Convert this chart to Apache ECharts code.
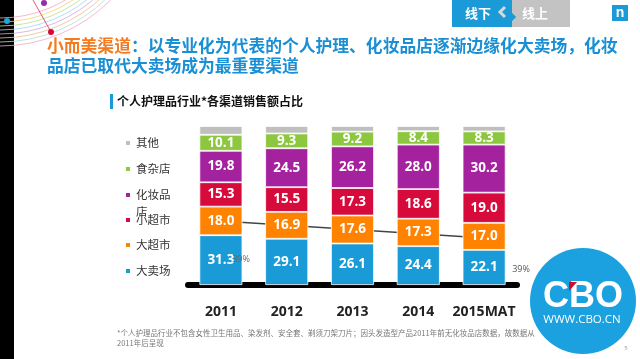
<!DOCTYPE html>
<html>
<head>
<meta charset="utf-8">
<script src="https://cdn.jsdelivr.net/npm/echarts@6/dist/echarts.min.js"></script>
<style>
html,body{margin:0;padding:0;background:#fff;}
#chart{width:640px;height:359px;}
</style>
</head>
<body>
<div id="chart"></div>
<script>
// ---- data ----
const categories = ['2011', '2012', '2013', '2014', '2015MAT'];
const seriesNames = ['大卖场', '大超市', '小超市', '化妆品店', '食杂店', '其他'];
const hypermarket = [31.3, 29.1, 26.1, 24.4, 22.1];   // 大卖场
const supermarket = [18.0, 16.9, 17.6, 17.3, 17.0];   // 大超市
const minimarket = [15.3, 15.5, 17.3, 18.6, 19.0];    // 小超市
const cosmeticStore = [19.8, 24.5, 26.2, 28.0, 30.2]; // 化妆品店
const grocery = [10.1, 9.3, 9.2, 8.4, 8.3];           // 食杂店
const others = [5.5, 4.7, 3.6, 3.3, 3.4];             // 其他
const trendLine = [40.3, null, null, null, 29.6];
const trendLabel = '39%';

const colors = ['#1a9ad6', '#ff8200', '#d70a3c', '#a5229f', '#8dc63f', '#bfbfbf'];
const seriesData = [hypermarket, supermarket, minimarket, cosmeticStore, grocery, others];

const cjk = "'Noto Sans CJK SC', 'Noto Sans', sans-serif";

const chart = echarts.init(document.getElementById('chart'), null, {renderer: 'canvas'});

const series = seriesNames.map((name, i) => ({
  name: name,
  type: 'bar',
  stack: 'total',
  barWidth: 43,
  data: seriesData[i],
  itemStyle: {color: colors[i], borderColor: '#ffffff', borderWidth: 0.8},
  label: {
    show: i < 5,
    position: 'inside',
    color: '#ffffff',
    fontFamily: "'Open Sans', sans-serif",
    fontWeight: 'bold',
    fontSize: 13.5,
    formatter: p => p.value.toFixed(1)
  },
  z: 3
}));

series.push({
  name: 'trend',
  type: 'line',
  data: trendLine,
  connectNulls: true,
  symbol: 'none',
  lineStyle: {color: '#444', width: 1.5},
  z: 1,
  silent: true
});

// legend (one component per item, positioned individually)
const legendPos = [
  {name: '其他', cy: 143},
  {name: '食杂店', cy: 169},
  {name: '化妆品店', cy: 195, wrap: true},
  {name: '小超市', cy: 220},
  {name: '大超市', cy: 245},
  {name: '大卖场', cy: 271}
];
const legends = legendPos.map(l => {
  const base = {
    data: [l.name],
    left: 124,
    orient: 'vertical',
    icon: 'rect',
    itemWidth: 6,
    itemHeight: 6,
    padding: 0,
    selectedMode: false,
    textStyle: {fontSize: 11.5, color: '#333', fontFamily: cjk, lineHeight: 14}
  };
  if (l.wrap) {
    base.formatter = ' \n化妆品\n店';
    base.textStyle = {fontSize: 11.5, color: '#333', fontFamily: cjk, lineHeight: 17};
    base.top = l.cy - 25.5;
  } else {
    base.top = l.cy - 7;
  }
  return base;
});

// decorative arcs
const arcColors = ['#f4a6c6', '#f6d26d', '#b6df8c', '#9fd4f0', '#cfa6df', '#f8b98a', '#a9e0d9', '#f4a6c6'];
const arcs = arcColors.map((c, i) => ({
  type: 'arc',
  shape: {cx: 0, cy: -110, r: 128 + i * 4, startAngle: 0, endAngle: Math.PI / 2},
  style: {stroke: c, lineWidth: 0.8, fill: null},
  silent: true
}));

const option = {
  backgroundColor: '#ffffff',
  animation: false,
  title: [
    {
      left: 47, top: 36,
      text: '{o|小而美渠道}{b|：以专业化为代表的个人护理、化妆品店逐渐边缘化大卖场，化妆}\n{b|品店已取代大卖场成为最重要渠道}',
      textStyle: {
        rich: {
          o: {color: '#f47b20', fontSize: 16.8, fontWeight: 'bold', fontFamily: cjk, lineHeight: 20},
          b: {color: '#1a8fd3', fontSize: 16.8, fontWeight: 'bold', fontFamily: cjk, lineHeight: 20}
        }
      },
      padding: 0
    },
    {
      left: 117, top: 94,
      text: '个人护理品行业*各渠道销售额占比',
      padding: 0,
      textStyle: {fontSize: 12, fontWeight: 'bold', color: '#111', fontFamily: cjk, lineHeight: 15}
    }
  ],
  legend: legends,
  grid: {left: 188, right: 123, top: 126, bottom: 74},
  xAxis: {
    type: 'category',
    data: categories,
    offset: 3,
    axisLine: {lineStyle: {color: '#000', width: 6}},
    axisTick: {show: false},
    axisLabel: {
      interval: 0,
      margin: 17,
      fontSize: 14,
      fontWeight: 'bold',
      color: '#222',
      fontFamily: "'Open Sans', sans-serif",
      verticalAlign: 'top'
    }
  },
  yAxis: {
    type: 'value', min: 0, max: 100, show: false,
    splitLine: {show: false}
  },
  series: series,
  graphic: [
    {type: 'rect', shape: {x: 0, y: 0, width: 14, height: 359}, style: {fill: '#000'}, silent: true},
    ...arcs,
    {type: 'line', shape: {x1: 33, y1: 0, x2: 51, y2: 32}, style: {stroke: '#d9304f', lineWidth: 0.8}, silent: true},
    {type: 'circle', shape: {cx: 44, cy: 3, r: 3}, style: {fill: '#9b2aa8'}, silent: true},
    {type: 'circle', shape: {cx: 51, cy: 32, r: 3}, style: {fill: '#d6093a'}, silent: true},
    {type: 'circle', shape: {cx: 7, cy: 21, r: 3}, style: {fill: '#19a8df'}, silent: true},
    // top right switch
    {type: 'rect', shape: {x: 452, y: 0, width: 60, height: 27}, style: {fill: '#1a9ad6'}, silent: true},
    {type: 'rect', shape: {x: 512, y: 0, width: 58, height: 27}, style: {fill: '#c3c3c3'}, silent: true},
    {type: 'polyline', shape: {points: [[505, 7], [500, 12], [505, 17]]}, style: {stroke: '#d8d8d8', lineWidth: 3, fill: null}, silent: true},
    {type: 'polyline', shape: {points: [[509, 12], [514, 17], [509, 22]]}, style: {stroke: '#1a9ad6', lineWidth: 3, fill: null}, silent: true},
    {type: 'text', x: 478, y: 13, style: {text: '线下', fill: '#fff', fontSize: 13, fontWeight: 'bold', fontFamily: cjk, align: 'center', verticalAlign: 'middle'}, silent: true},
    {type: 'text', x: 535, y: 13, style: {text: '线上', fill: '#fff', fontSize: 13, fontWeight: 'bold', fontFamily: cjk, align: 'center', verticalAlign: 'middle'}, silent: true},
    {type: 'rect', shape: {x: 612, y: 5, width: 16, height: 16}, style: {fill: '#1a9ad6'}, silent: true},
    {type: 'text', x: 620, y: 13, style: {text: 'n', fill: '#fff', fontSize: 14, fontWeight: 'bold', fontFamily: "'Liberation Sans', sans-serif", align: 'center', verticalAlign: 'middle'}, silent: true},
    // subtitle marker
    {type: 'rect', shape: {x: 110, y: 94, width: 3, height: 15}, style: {fill: '#1a9ad6'}, silent: true},
    // annotation labels
    {type: 'text', x: 241, y: 259, style: {text: trendLabel, fill: '#666', fontSize: 9, fontFamily: "'Open Sans', sans-serif", align: 'center', verticalAlign: 'middle'}, z: 10, silent: true},
    {type: 'text', x: 521, y: 269, style: {text: trendLabel, fill: '#555', fontSize: 9, fontFamily: "'Open Sans', sans-serif", align: 'center', verticalAlign: 'middle'}, silent: true},
    // CBO logo
    {type: 'circle', shape: {cx: 583, cy: 301, r: 53}, style: {fill: '#1ba1df'}, silent: true, z: 20},
    {type: 'text', x: 583, y: 297, style: {text: 'CBO', fill: '#fff', fontSize: 36, fontWeight: 'bold', fontFamily: "'Liberation Sans', sans-serif", align: 'center', verticalAlign: 'middle'}, silent: true, z: 21},
    {type: 'polygon', shape: {points: [[569, 282], [577, 282], [569, 291]]}, style: {fill: '#c8102e'}, silent: true, z: 22},
    {type: 'text', x: 582, y: 320, style: {text: 'WWW.CBO.CN', fill: '#fff', fontSize: 11.5, fontFamily: "'Open Sans', sans-serif", align: 'center', verticalAlign: 'middle'}, silent: true, z: 21},
    // footnote
    {type: 'text', x: 117, y: 338, style: {text: '*个人护理品行业不包含女性卫生用品、染发剂、安全套、剃须刀架刀片；因头发造型产品2011年前无化妆品店数据，故数据从\n2011年后呈现', fill: '#777', fontSize: 7.5, lineHeight: 10, fontFamily: cjk, verticalAlign: 'middle'}, silent: true},
    {type: 'text', x: 626, y: 348, style: {text: '5', fill: '#999', fontSize: 6, fontFamily: "'Open Sans', sans-serif", align: 'center', verticalAlign: 'middle'}, silent: true}
  ]
};

chart.setOption(option);
</script>
</body>
</html>
